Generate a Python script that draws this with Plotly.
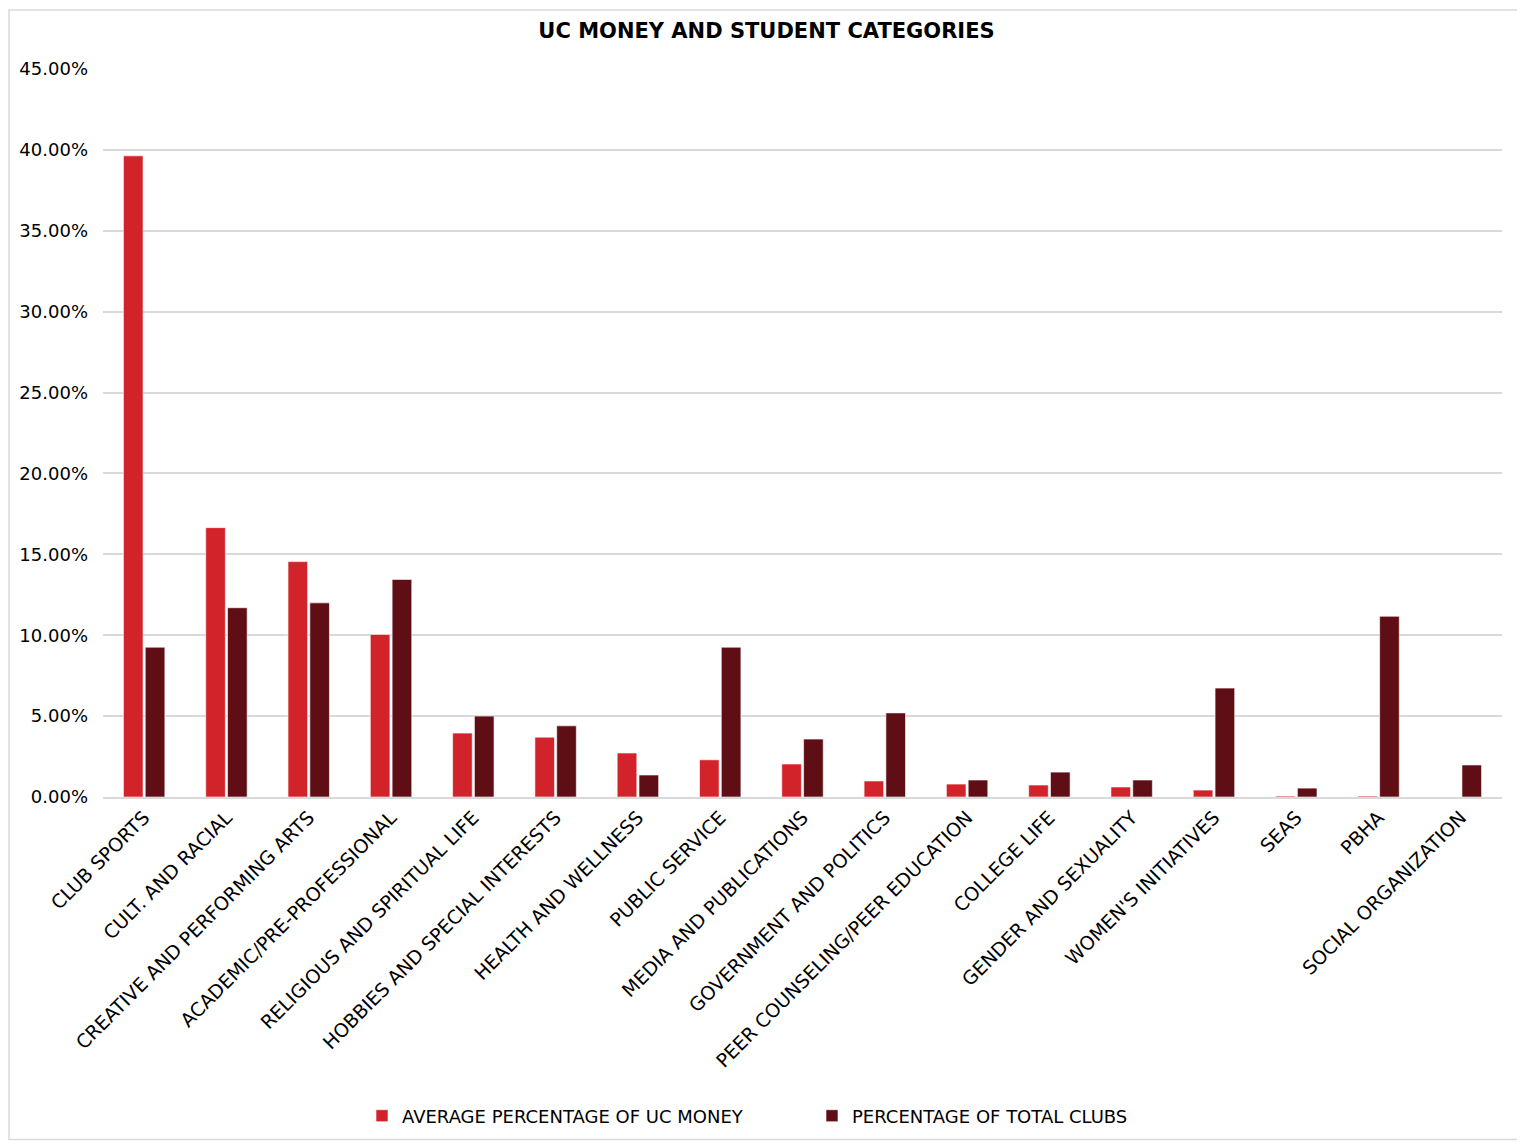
import plotly.graph_objects as go

categories = ["CLUB SPORTS", "CULT. AND RACIAL", "CREATIVE AND PERFORMING ARTS",
              "ACADEMIC/PRE-PROFESSIONAL", "RELIGIOUS AND SPIRITUAL LIFE",
              "HOBBIES AND SPECIAL INTERESTS", "HEALTH AND WELLNESS", "PUBLIC SERVICE",
              "MEDIA AND PUBLICATIONS", "GOVERNMENT AND POLITICS",
              "PEER COUNSELING/PEER EDUCATION", "COLLEGE LIFE", "GENDER AND SEXUALITY",
              "WOMEN'S INITIATIVES", "SEAS", "PBHA", "SOCIAL ORGANIZATION"]
uc_money = [0.3963, 0.1665, 0.1455, 0.1005, 0.0395, 0.0370, 0.0272, 0.0230,
            0.0204, 0.0099, 0.0080, 0.0074, 0.0062, 0.0043, 0.0006, 0.0006, 0.0]
total_clubs = [0.0926, 0.1170, 0.1200, 0.1345, 0.0500, 0.0440, 0.0136, 0.0926,
               0.0358, 0.0520, 0.0105, 0.0154, 0.0105, 0.0673, 0.0055, 0.1117, 0.0198]
series_names = ["AVERAGE PERCENTAGE OF UC MONEY", "PERCENTAGE OF TOTAL CLUBS"]
y_ticks = [0, 0.05, 0.10, 0.15, 0.20, 0.25, 0.30, 0.35, 0.40, 0.45]

FONT = "DejaVu Sans"
RED = "#D2232A"
DARK = "#600E15"

# page has an 8px body margin; compensate so the figure lands like the reference
OFF = 8
W, H = 1525 - OFF, 1145 - OFF
L, T = 103 - OFF, 69 - OFF
R = 1525 - 1502
B = 1145 - 798
pw, ph = W - L - R, H - T - B

def px(x):  # screen x -> paper
    return (x - OFF - L) / pw

def py(y):  # screen y -> paper
    return (H - B - (y - OFF)) / ph

fig = go.Figure()
fig.add_trace(go.Bar(x=categories, y=uc_money, name=series_names[0], legend="legend",
                     marker=dict(color=RED, line=dict(color="white", width=0.6))))
fig.add_trace(go.Bar(x=categories, y=total_clubs, name=series_names[1], legend="legend2",
                     marker=dict(color=DARK, line=dict(color="white", width=0.6))))

leg_common = dict(orientation="h", yanchor="middle", xanchor="left",
                  font=dict(family=FONT, size=18, color="#000000"),
                  itemwidth=30, bgcolor="rgba(0,0,0,0)")

fig.update_layout(
    width=W, height=H,
    margin=dict(l=L, r=R, t=T, b=B),
    paper_bgcolor="white", plot_bgcolor="white",
    barmode="group", bargap=0.47, bargroupgap=0.1,
    font=dict(family=FONT, color="#000000", size=18),
    title=dict(text="<b>UC MONEY AND STUDENT CATEGORIES</b>", x=0.5, xanchor="center",
               y=1 - (31 - OFF) / H, yanchor="middle",
               font=dict(family=FONT, size=21, color="#000000")),
    showlegend=True,
    legend=dict(x=px(362), y=py(1116), **leg_common),
    legend2=dict(x=px(812), y=py(1116), **leg_common),
    xaxis=dict(tickangle=-45, showgrid=False, showline=True, linecolor="#D9D9D9",
               linewidth=2, ticks="", tickfont=dict(family=FONT, size=19, color="#000000")),
    yaxis=dict(range=[0, 0.45], tickvals=y_ticks, tickformat=".2%", showgrid=True,
               gridcolor="#D9D9D9", gridwidth=1.5, zeroline=False, showline=False,
               ticks="", ticklabelstandoff=14,
               tickfont=dict(family=FONT, size=18, color="#000000")),
    shapes=[dict(type="rect", xref="paper", yref="paper", x0=px(9), x1=px(1521),
                 y0=py(1141), y1=py(10), line=dict(color="#D9D9D9", width=1.5),
                 fillcolor="rgba(0,0,0,0)", layer="below")],
)

fig.write_html("out.html")
